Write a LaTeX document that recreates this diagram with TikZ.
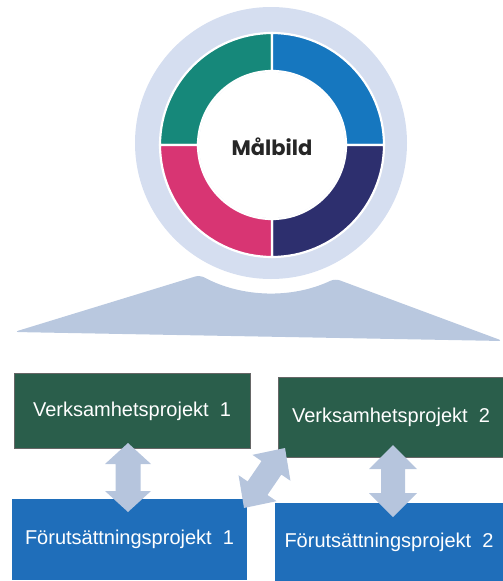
\documentclass[tikz,border=0pt]{standalone}
\usepackage{fontspec}
\setmainfont{Liberation Sans}
\newfontfamily\titlefont{Poppins}
\usetikzlibrary{calc}

\definecolor{halo}{HTML}{D5DEF0}
\definecolor{ridge}{HTML}{B9C8DF}
\definecolor{segteal}{HTML}{16887A}
\definecolor{segblue}{HTML}{1677BF}
\definecolor{segnavy}{HTML}{2D2F6E}
\definecolor{segpink}{HTML}{D83573}
\definecolor{boxgreen}{HTML}{2A5E4B}
\definecolor{boxblue}{HTML}{1F6EBA}
\definecolor{arrowfill}{HTML}{B6C5DD}

\tikzset{
  projbox/.style={rectangle, inner sep=0pt, text=white, font=\fontsize{20}{23}\selectfont},
  greenbox/.style={projbox, fill=boxgreen, draw=black!60, line width=0.4pt},
  bluebox/.style={projbox, fill=boxblue},
  segment/.style={draw=white, line width=2.2pt},
  blockfill/.style={fill=arrowfill}
}

% double-headed block arrow between two named points
% #1,#2: tips; #3: head length; #4: head half width; #5: shaft half width
\newcommand\blockarrow[5]{%
  \coordinate (ba-p) at ($(#1)!#3!(#2)$);
  \coordinate (ba-q) at ($(#2)!#3!(#1)$);
  \fill[blockfill] (#1)
    -- ($(ba-p)!#4!90:(#2)$) -- ($(ba-p)!#5!90:(#2)$)
    -- ($(ba-q)!#5!-90:(#1)$) -- ($(ba-q)!#4!-90:(#1)$)
    -- (#2)
    -- ($(ba-q)!#4!90:(#1)$) -- ($(ba-q)!#5!90:(#1)$)
    -- ($(ba-p)!#5!-90:(#2)$) -- ($(ba-p)!#4!-90:(#2)$)
    -- cycle;
}

\begin{document}
\begin{tikzpicture}[x=1pt, y=-1pt]
\useasboundingbox (0,0) rectangle (503,581);

% pale disc behind the wheel
\coordinate (wc) at (271,143);
\fill[halo] (wc) circle[radius=136pt];

% ridge below the wheel, hollowed out around the disc
% (polar offsets in pt keep the usual upward y direction)
\fill[ridge, rounded corners=5pt] (14,332) -- ($(wc)+(-118.3:150pt)$)
  arc[start angle=-118.3, end angle=-64.7, radius=150pt]
  -- (503,341) -- cycle;

% four-part wheel
\coordinate (hub) at (272,145);
\foreach \a/\c in {180/segteal, 90/segblue, 0/segnavy, -90/segpink}{
  \filldraw[segment, fill=\c]
    ($(hub)+(\a:112pt)$) arc[start angle=\a, delta angle=-90, radius=112pt]
    -- ($(hub)+(\a-90:74pt)$) arc[start angle=\a-90, delta angle=90, radius=74pt]
    -- cycle;
}
\fill[white] (hub) circle[radius=73pt];
\node[font=\titlefont\bfseries\fontsize{21}{24}\selectfont, text=black!85] (goal) at (272,147) {Målbild};

% project boxes
\node[greenbox, minimum width=236pt, minimum height=75pt] (v1) at (132,411) {Verksamhetsprojekt\ \ 1};
\node[greenbox, minimum width=226pt, minimum height=80pt] (v2) at (391,417) {Verksamhetsprojekt\ \ 2};
\node[bluebox, minimum width=235pt, minimum height=81pt] (f1) at (129.5,539.5) {Förutsättningsprojekt\ \ 1};
\node[bluebox, minimum width=228pt, minimum height=78pt] (f2) at (389,542) {Förutsättningsprojekt\ \ 2};

% links between the projects
\coordinate (a1t) at (128,443);
\coordinate (a1b) at (128,512);
\blockarrow{a1t}{a1b}{21pt}{23pt}{12.5pt}
\coordinate (a2t) at (393,445);
\coordinate (a2b) at (393,517);
\blockarrow{a2t}{a2b}{24pt}{24pt}{12pt}
\coordinate (a3t) at (285,448);
\coordinate (a3b) at (244,508);
\blockarrow{a3t}{a3b}{24pt}{23pt}{12pt}
\end{tikzpicture}
\end{document}
